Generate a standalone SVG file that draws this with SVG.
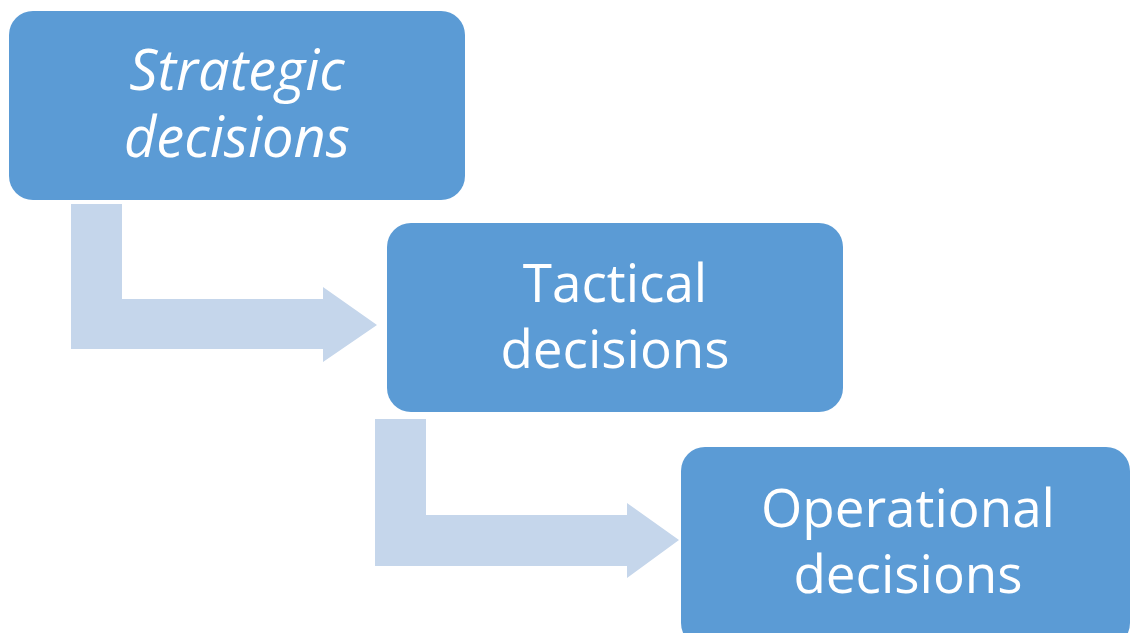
<svg xmlns="http://www.w3.org/2000/svg" width="1131" height="633" viewBox="0 0 1131 633">
<style>
.box{fill:#5B9BD5;}
.arr{fill:#C5D6EB;}
.t{font-family:"Open Sans","Liberation Sans",sans-serif;font-size:53px;fill:#FFFFFF;text-anchor:middle;}
.i{font-style:italic;font-size:56px;}
</style>
<rect width="1131" height="633" fill="#FFFFFF"/>
<g id="connectors">
<path class="arr" d="M71,204 H122 V299 H323 V287 L377,325 L323,362 V349 H71 Z"/>
<path class="arr" d="M375,419 H426 V515 H627 V503 L679,540 L627,578 V566 H375 Z"/>
</g>
<g id="strategic">
<rect class="box" x="9" y="11" width="456" height="189" rx="24"/>
<text class="t i" x="237" y="90">Strategic</text>
<text class="t i" x="237" y="157">decisions</text>
</g>
<g id="tactical">
<rect class="box" x="387" y="223" width="456" height="189" rx="24"/>
<text class="t" x="615" y="302">Tactical</text>
<text class="t" x="615" y="368">decisions</text>
</g>
<g id="operational">
<rect class="box" x="681" y="447" width="449" height="200" rx="24"/>
<text class="t" x="908" y="527">Operational</text>
<text class="t" x="908" y="593">decisions</text>
</g>
</svg>
